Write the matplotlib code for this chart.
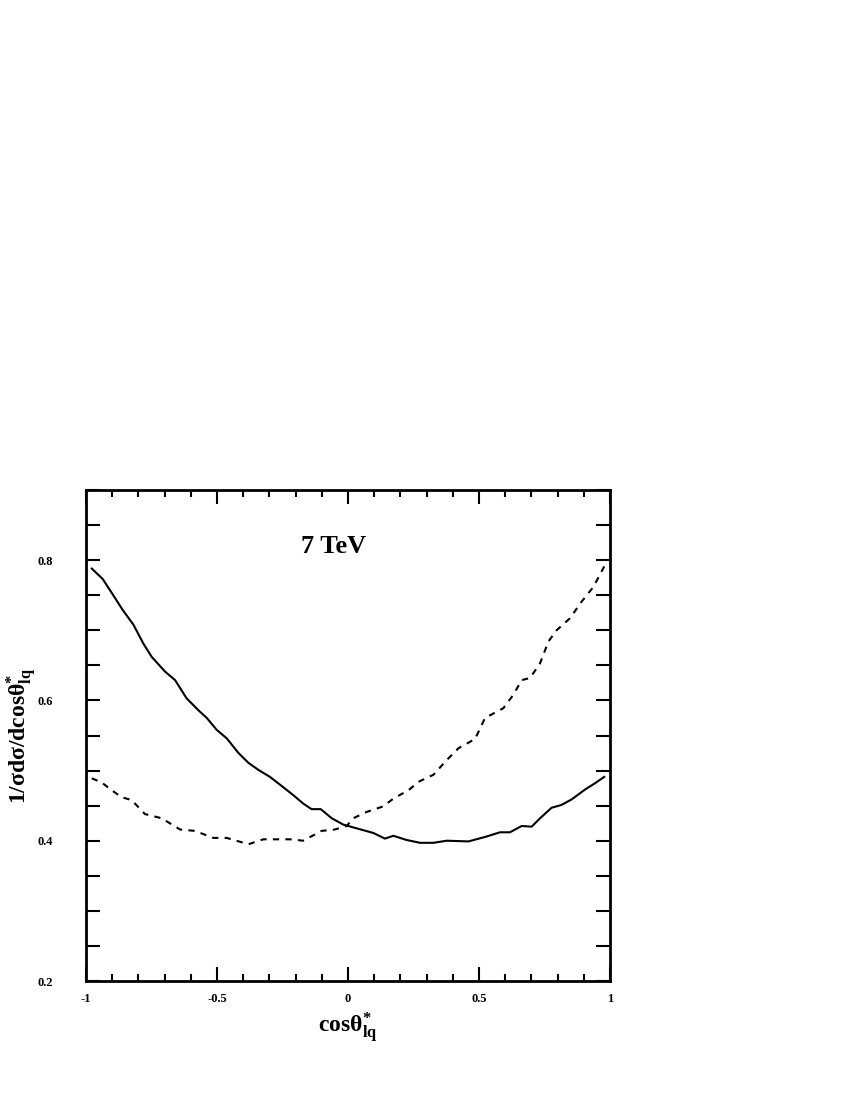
#!/usr/bin/env python3
"""Normalised cos(theta*_lq) distribution at 7 TeV."""

import matplotlib

matplotlib.use("Agg")
import matplotlib.pyplot as plt
from matplotlib.ticker import MultipleLocator

plt.rcParams["font.family"] = ["Liberation Serif", "DejaVu Serif"]
plt.rcParams["mathtext.fontset"] = "custom"
plt.rcParams["mathtext.rm"] = "Liberation Serif"
plt.rcParams["mathtext.it"] = "Liberation Serif:italic"
plt.rcParams["mathtext.bf"] = "Liberation Serif:bold"

# solid curve
solid_x = [-0.978, -0.936, -0.896, -0.860, -0.819, -0.781, -0.749, -0.698, -0.660,
           -0.616, -0.571, -0.539, -0.501, -0.463, -0.418, -0.380, -0.342, -0.298,
           -0.253, -0.209, -0.171, -0.139, -0.104, -0.062, -0.018, 0.020, 0.097,
           0.141, 0.173, 0.224, 0.275, 0.326, 0.377, 0.460, 0.529, 0.580, 0.618,
           0.663, 0.701, 0.733, 0.777, 0.815, 0.854, 0.905, 0.943, 0.978]
solid_y = [0.788, 0.773, 0.750, 0.729, 0.708, 0.681, 0.662, 0.641, 0.629,
           0.603, 0.586, 0.575, 0.558, 0.546, 0.525, 0.511, 0.501, 0.491,
           0.478, 0.465, 0.453, 0.445, 0.445, 0.432, 0.423, 0.419, 0.411,
           0.403, 0.407, 0.401, 0.397, 0.397, 0.400, 0.399, 0.406, 0.412, 0.412,
           0.421, 0.420, 0.432, 0.447, 0.451, 0.459, 0.473, 0.482, 0.491]

# dashed curve
dashed_x = [-0.978, -0.940, -0.902, -0.864, -0.826, -0.775, -0.711, -0.641, -0.584,
            -0.514, -0.463, -0.380, -0.323, -0.221, -0.171, -0.101, -0.050, -0.005,
            0.020, 0.071, 0.135, 0.173, 0.231, 0.269, 0.326, 0.377, 0.422, 0.485,
            0.523, 0.593, 0.631, 0.663, 0.695, 0.733, 0.765, 0.796, 0.847, 0.892,
            0.937, 0.978]
dashed_y = [0.489, 0.483, 0.472, 0.462, 0.458, 0.438, 0.432, 0.416, 0.414,
            0.404, 0.404, 0.395, 0.402, 0.402, 0.400, 0.414, 0.416, 0.421,
            0.432, 0.441, 0.449, 0.460, 0.472, 0.484, 0.494, 0.515, 0.532, 0.545,
            0.575, 0.589, 0.608, 0.629, 0.632, 0.653, 0.684, 0.700, 0.717, 0.741,
            0.762, 0.791]

x_ticks = [-1, -0.5, 0, 0.5, 1]
x_tick_labels = ["-1", "-0.5", "0", "0.5", "1"]
y_ticks = [0.2, 0.4, 0.6, 0.8]
y_tick_labels = ["0.2", "0.4", "0.6", "0.8"]

fig = plt.figure(figsize=(8.5, 11), dpi=100)
ax = fig.add_axes([86 / 850, 1 - 981 / 1100, 524 / 850, 491 / 1100])

ax.plot(solid_x, solid_y, color="black", linewidth=1.5)
ax.plot(dashed_x, dashed_y, color="black", linewidth=1.5, dashes=(3, 3))

ax.set_xlim(-1, 1)
ax.set_ylim(0.2, 0.9)
ax.set_xticks(x_ticks)
ax.set_xticklabels(x_tick_labels)
ax.set_yticks(y_ticks)
ax.set_yticklabels(y_tick_labels)
ax.xaxis.set_minor_locator(MultipleLocator(0.1))
ax.yaxis.set_minor_locator(MultipleLocator(0.05))

ax.tick_params(which="both", direction="in", top=True, right=True, width=1.5)
ax.tick_params(axis="x", which="major", length=10, pad=9, labelsize=9)
ax.tick_params(axis="x", which="minor", length=5)
ax.tick_params(axis="y", which="major", length=10, pad=24, labelsize=9)
ax.tick_params(axis="y", which="minor", length=10)
for label in ax.get_xticklabels() + ax.get_yticklabels():
    label.set_fontweight("bold")
for spine in ax.spines.values():
    spine.set_linewidth(2)

ax.set_xlabel(r"$\mathbf{cos\theta^{*}_{lq}}$", fontsize=17, labelpad=4)
ax.set_ylabel(r"$\mathbf{1/\sigma d\sigma/dcos\theta^{*}_{lq}}$", fontsize=17)
ax.yaxis.set_label_coords(-0.09, 0.5)

ax.text(-0.057, 0.82, "7 TeV", fontsize=19, fontweight="bold", ha="center", va="center")

fig.savefig("out.png", dpi=100)
